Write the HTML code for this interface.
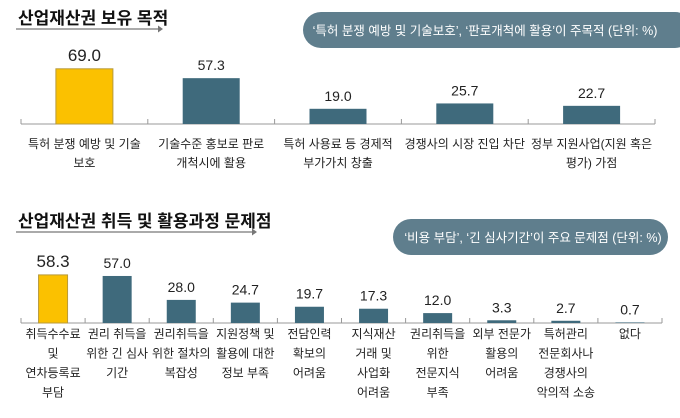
<!DOCTYPE html>
<html><head><meta charset="utf-8">
<style>
body{margin:0;background:#fff;font-family:"Liberation Sans","Noto Sans CJK KR",sans-serif;}
#wrap{position:relative;width:680px;height:418px;overflow:hidden;}
svg text{font-family:"Liberation Sans","Noto Sans CJK KR",sans-serif;}
</style></head>
<body>
<div id="wrap">
<svg id="svg" width="680" height="418">
  <text x="18" y="24" font-size="17" font-weight="bold" fill="#111">산업재산권 보유 목적</text>
  <line x1="16" y1="29" x2="158" y2="29" stroke="#777" stroke-width="1.2"/>
  <polygon points="158,25.5 163,29 158,32.5" fill="#777"/>
  <rect x="303" y="12" width="390" height="36" rx="18" fill="#5f7e8d"/>
  <text x="485" y="35" font-size="12.5" fill="#fff" text-anchor="middle">‘특허 분쟁 예방 및 기술보호’, ‘판로개척에 활용’이 주목적 (단위: %)</text>

  <text x="18" y="227" font-size="17" font-weight="bold" fill="#111">산업재산권 취득 및 활용과정 문제점</text>
  <line x1="16" y1="232" x2="252" y2="232" stroke="#777" stroke-width="1.2"/>
  <polygon points="252,228.5 257,232 252,235.5" fill="#777"/>
  <rect x="393" y="219" width="275" height="36" rx="18" fill="#5f7e8d"/>
  <text x="533" y="242" font-size="12.5" fill="#fff" text-anchor="middle">‘비용 부담’, ‘긴 심사기간’이 주요 문제점 (단위: %)</text>
</svg>
</div>
<script>
const topCategories = [["특허 분쟁 예방 및 기술","보호"],["기술수준 홍보로 판로","개척시에 활용"],["특허 사용료 등 경제적","부가가치 창출"],["경쟁사의 시장 진입 차단"],["정부 지원사업(지원 혹은","평가) 가점"]];
const topValues = [69.0, 57.3, 19.0, 25.7, 22.7];
const topLabels = ["69.0","57.3","19.0","25.7","22.7"];
const botCategories = [["취득수수료","및","연차등록료","부담"],["권리 취득을","위한 긴 심사","기간"],["권리취득을","위한 절차의","복잡성"],["지원정책 및","활용에 대한","정보 부족"],["전담인력","확보의","어려움"],["지식재산","거래 및","사업화","어려움"],["권리취득을","위한","전문지식","부족"],["외부 전문가","활용의","어려움"],["특허관리","전문회사나","경쟁사의","악의적 소송"],["없다"]];
const botValues = [58.3, 57.0, 28.0, 24.7, 19.7, 17.3, 12.0, 3.3, 2.7, 0.7];
const botLabels = ["58.3","57.0","28.0","24.7","19.7","17.3","12.0","3.3","2.7","0.7"];

const svg = document.getElementById('svg');
const NS = 'http://www.w3.org/2000/svg';
function mk(tag, attrs){const e=document.createElementNS(NS,tag);for(const k in attrs)e.setAttribute(k,attrs[k]);svg.appendChild(e);return e;}

function drawChart(cfg){
  const n = cfg.values.length;
  const step = (cfg.x1 - cfg.x0)/n;
  const xBand = i => cfg.x0 + step*i;
  const yScale = v => cfg.base - v*cfg.ppu;
  const ax = mk('line',{x1:cfg.x0,y1:cfg.base,x2:cfg.x1,y2:cfg.base,stroke:'#999','stroke-width':1});
  
  
  for(let i=0;i<=n;i++){
    const t = mk('line',{x1:xBand(i),y1:cfg.base-5,x2:xBand(i),y2:cfg.base,stroke:'#999','stroke-width':1});
    
    
  }
  cfg.values.forEach((v,i)=>{
    const cx = xBand(i)+step/2;
    const y = yScale(v);
    const r = mk('rect',{x:cx-cfg.bw/2,y:y,width:cfg.bw,height:cfg.base-y,fill:i===0?'#fbc100':'#3f6a7c',stroke:i===0?'#b89a3a':'none','stroke-width':1});
    
    
    const lt = mk('text',{x:cx,y:y-8,'font-size':i===0?17:14,'text-anchor':'middle',fill:'#222'});
    lt.textContent = cfg.labels[i];
    
    
    cfg.cats[i].forEach((line,j)=>{
      const ct = mk('text',{x:cx,y:cfg.catY+j*cfg.lh,'font-size':cfg.fs,'text-anchor':'middle',fill:'#222'});
      ct.textContent = line;
      
      
    });
  });
}
drawChart({prefix:'top',values:topValues,labels:topLabels,cats:topCategories,x0:21,x1:655,base:124,ppu:0.8,bw:57,catY:148,lh:19,fs:12});
drawChart({prefix:'bottom',values:botValues,labels:botLabels,cats:botCategories,x0:21,x1:662,base:323,ppu:0.825,bw:29,catY:338,lh:19.5,fs:12});
</script>
</body></html>
